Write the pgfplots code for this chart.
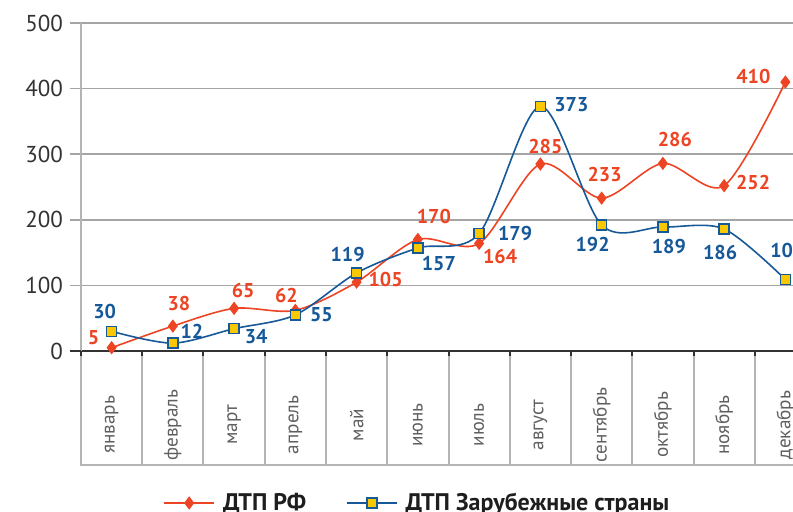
\documentclass[border=0pt]{standalone}
\usepackage{pgfplots}
\pgfplotsset{compat=1.18}
\usepackage{fontspec}
\setmainfont{PT Sans}
\definecolor{rfred}{RGB}{237,68,36}
\definecolor{zsblue}{RGB}{22,88,152}
\definecolor{zsyellow}{RGB}{250,200,0}
\definecolor{gridgray}{RGB}{165,165,165}
\definecolor{tablegray}{RGB}{180,180,180}
\definecolor{axisdark}{RGB}{50,50,50}
\definecolor{monthgray}{RGB}{95,95,95}
\definecolor{legtext}{RGB}{30,30,30}
\begin{document}
\begin{tikzpicture}
\useasboundingbox (-40.5pt,-80.5pt) rectangle (356pt,175.5pt);
\clip (-40.5pt,-80.5pt) rectangle (356pt,175.5pt);
\begin{axis}[
  at={(0,0)}, anchor=south west, scale only axis,
  width=367.5pt, height=164pt,
  xmin=-0.5, xmax=11.5, ymin=0, ymax=500,
  clip=false,
  axis lines=left,
  axis line style={-},
  x axis line style={draw=axisdark, line width=1pt},
  y axis line style={draw=tablegray, line width=1pt},
  ytick={0,100,...,500},
  ymajorgrids,
  grid style={gridgray, line width=0.8pt},
  y tick style={gridgray, line width=0.8pt},
  tick align=outside,
  major tick length=5.5pt,
  /pgf/number format/assume math mode=true,
  yticklabel style={font=\fontsize{11.5}{14}\selectfont, text=axisdark, anchor=east, xshift=0pt},
  xtick={0,...,11},
  xticklabels={январь,февраль,март,апрель,май,июнь,июль,август,сентябрь,октябрь,ноябрь,декабрь},
  x tick style={draw=none},
  xticklabel style={rotate=90, anchor=center, xshift=-31.5pt, font=\fontsize{9.6}{12}\selectfont, text=monthgray},
  legend style={at={(0.459,-0.4634)}, anchor=center, draw=none, fill=none,
    legend columns=2, font=\bfseries\fontsize{12}{14}\selectfont, text=legtext,
    /tikz/every even column/.append style={column sep=18pt}},
  legend image code/.code={\draw[mark repeat=2,mark phase=2,#1] plot coordinates {(0pt,0pt) (12.5pt,0pt) (25pt,0pt)};
    \path (27pt,0pt);},
]
\pgfplotsinvokeforeach{-0.5,0.5,1.5,2.5,3.5,4.5,5.5,6.5,7.5,8.5,9.5,10.5,11.5}{
  \draw[tablegray, line width=1pt] (axis cs:#1,0) -- ++(0pt,-57pt);
  \draw[axisdark, line width=1pt] (axis cs:#1,0) -- ++(0pt,-2.5pt);
}
\draw[tablegray, line width=1pt] (axis cs:-0.5,0) ++(-0.5pt,-57pt) -- ++(380pt,0pt);
\draw[axisdark, line width=1pt] (axis cs:-0.5,0) -- ++(-5.5pt,0pt);

\addplot[rfred, line width=0.8pt, smooth, mark=diamond*, mark size=2.7pt,
  mark options={fill=rfred, draw=rfred, solid}] coordinates {
  (0,5) (1,38) (2,65) (3,62) (4,105) (5,170) (6,164) (7,285) (8,233) (9,286) (10,252) (11,410)};
\addlegendentry{ДТП РФ}
\addplot[zsblue, line width=0.8pt, smooth, mark=square*, mark size=2.5pt,
  mark options={fill=zsyellow, draw=zsblue, line width=0.7pt, solid}] coordinates {
  (0,30) (1,12) (2,34) (3,55) (4,119) (5,157) (6,179) (7,373) (8,192) (9,189) (10,186) (11,109)};
\addlegendentry{ДТП Зарубежные страны}

\tikzset{rl/.style={text=rfred, font=\bfseries\fontsize{10}{12}\selectfont, inner sep=0pt},
         bl/.style={text=zsblue, font=\bfseries\fontsize{10}{12}\selectfont, inner sep=0pt}}
\node[rl, xshift=-9pt, yshift=5pt] at (axis cs:0,5) {5};
\node[rl, xshift=3pt, yshift=11.5pt] at (axis cs:1,38) {38};
\node[rl, xshift=4.5pt, yshift=9pt] at (axis cs:2,65) {65};
\node[rl, xshift=-4.5pt, yshift=7.5pt] at (axis cs:3,62) {62};
\node[rl, xshift=14.5pt, yshift=1.5pt] at (axis cs:4,105) {105};
\node[rl, xshift=8pt, yshift=11.5pt] at (axis cs:5,170) {170};
\node[rl, xshift=10.5pt, yshift=-6.5pt] at (axis cs:6,164) {164};
\node[rl, xshift=2.5pt, yshift=9pt] at (axis cs:7,285) {285};
\node[rl, xshift=1.5pt, yshift=12pt] at (axis cs:8,233) {233};
\node[rl, xshift=6pt, yshift=12pt] at (axis cs:9,286) {286};
\node[rl, xshift=14.5pt, yshift=1.5pt] at (axis cs:10,252) {252};
\node[rl, xshift=-16pt, yshift=3pt] at (axis cs:11,410) {410};

\node[bl, xshift=-3.5pt, yshift=10pt] at (axis cs:0,30) {30};
\node[bl, xshift=9.5pt, yshift=6pt] at (axis cs:1,12) {12};
\node[bl, xshift=11pt, yshift=-4pt] at (axis cs:2,34) {34};
\node[bl, xshift=13pt, yshift=0pt] at (axis cs:3,55) {55};
\node[bl, xshift=-4.5pt, yshift=9pt] at (axis cs:4,119) {119};
\node[bl, xshift=10.5pt, yshift=-8pt] at (axis cs:5,157) {157};
\node[bl, xshift=18pt, yshift=0pt] at (axis cs:6,179) {179};
\node[bl, xshift=15.5pt, yshift=1pt] at (axis cs:7,373) {373};
\node[bl, xshift=-4.5pt, yshift=-9.5pt] at (axis cs:8,192) {192};
\node[bl, xshift=3pt, yshift=-9.5pt] at (axis cs:9,189) {189};
\node[bl, xshift=-2pt, yshift=-12pt] at (axis cs:10,186) {186};
\node[bl, xshift=1pt, yshift=14.5pt] at (axis cs:11,109) {109};
\end{axis}
\end{tikzpicture}
\end{document}
